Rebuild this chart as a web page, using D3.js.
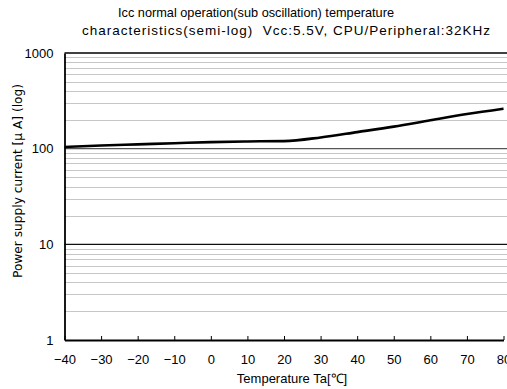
<!DOCTYPE html>
<html>
<head>
<meta charset="utf-8">
<script src="https://cdn.jsdelivr.net/npm/d3@7"></script>
<style>
  body { margin: 0; background: #fff; }
  svg { display: block; font-family: "Liberation Sans", Arial, sans-serif; }
</style>
</head>
<body>
<svg id="chart"></svg>
<script>
// data
var temps = [-40, -30, -20, -10, 0, 10, 20, 30, 40, 50, 60, 70, 80];
var icc = [104, 108, 111, 114, 117, 119, 120, 131, 149, 170, 198, 230, 262];
var xTicks = [-40, -30, -20, -10, 0, 10, 20, 30, 40, 50, 60, 70, 80];
var yTicks = [1, 10, 100, 1000];
var titleLines = [
    "Icc normal operation(sub oscillation) temperature",
    "characteristics(semi-log)  Vcc:5.5V, CPU/Peripheral:32KHz"
];

var width = 507, height = 389;
var margin = {top: 53, right: 3.5, bottom: 49, left: 64.5};

var svg = d3.select("#chart")
    .attr("width", width)
    .attr("height", height);

var x = d3.scaleLinear()
    .domain([-40, 80])
    .range([margin.left, width - margin.right]);

var y = d3.scaleLog()
    .domain([1, 1000])
    .range([height - margin.bottom, margin.top]);

// minor grid 2..9 per decade
var minor = [];
[1, 10, 100].forEach(function(d) {
    for (var k = 2; k <= 9; k++) minor.push(d * k);
});

svg.append("g")
    .selectAll("line")
    .data(minor)
    .enter().append("line")
    .attr("x1", margin.left)
    .attr("x2", width)
    .attr("y1", d => Math.round(y(d)) + 0.5)
    .attr("y2", d => Math.round(y(d)) + 0.5)
    .attr("stroke", "#8c8c8c")
    .attr("stroke-width", 1)
    .attr("stroke-dasharray", "1,1");

svg.append("g")
    .selectAll("line")
    .data([10, 100])
    .enter().append("line")
    .attr("x1", margin.left)
    .attr("x2", width)
    .attr("y1", d => y(d))
    .attr("y2", d => y(d))
    .attr("stroke", (d) => d == 10 ? "#111" : "#555")
    .attr("stroke-width", 1.4);

// top border
svg.append("line")
    .attr("x1", margin.left).attr("x2", width)
    .attr("y1", y(1000)).attr("y2", y(1000))
    .attr("stroke", "#000").attr("stroke-width", 1.5);

// x axis, ticks pointing inside
var xAxis = g => g
    .attr("transform", `translate(0,${y(1)})`)
    .call(d3.axisBottom(x).tickValues(xTicks).tickSizeInner(-4).tickSizeOuter(0).tickPadding(15)
        .tickFormat(d => d < 0 ? "\u2212" + Math.abs(d) : d))
    .call(g => g.select(".domain").attr("stroke", "#000").attr("stroke-width", 1.8))
    .call(g => g.selectAll(".tick line").attr("stroke", "#000"))
    .call(g => g.selectAll("text").style("font-size", "13px").style("font-family", "Liberation Sans").attr("fill", "#000"));

var yAxis = g => g
    .attr("transform", `translate(${margin.left},0)`)
    .call(d3.axisLeft(y).tickValues(yTicks).tickSize(0).tickPadding(11).tickFormat(d3.format("d")))
    .call(g => g.select(".domain").attr("stroke", "#000").attr("stroke-width", 1.8))
    .call(g => g.selectAll("text").style("font-size", "13px").style("font-family", "Liberation Sans").attr("fill", "#000"));

svg.append("g").call(xAxis);
svg.append("g").call(yAxis);

// curve
var line = d3.line()
    .x((d, i) => x(temps[i]))
    .y(d => y(d))
    .curve(d3.curveMonotoneX);

svg.append("path")
    .datum(icc)
    .attr("fill", "none")
    .attr("stroke", "#000")
    .attr("stroke-width", 2.6)
    .attr("d", line);

// titles
svg.append("g")
    .selectAll("text")
    .data(titleLines)
    .enter().append("text")
    .attr("x", (d, i) => i == 0 ? 256 : 286)
    .attr("y", (d, i) => 16.5 + i * 18.5)
    .attr("text-anchor", "middle")
    .style("font-size", "13.5px")
    .style("white-space", "pre")
    .attr("textLength", (d, i) => i == 0 ? 276 : 408)
    .attr("lengthAdjust", (d, i) => i == 0 ? "spacingAndGlyphs" : "spacing")
    .text(d => d);

svg.append("text")
    .attr("x", 292)
    .attr("y", 383)
    .attr("text-anchor", "middle")
    .style("font-size", "13px")
    .text("Temperature Ta[\u2103]");

svg.append("text")
    .attr("transform", "translate(22,181) rotate(-90)")
    .attr("text-anchor", "middle")
    .style("font-family", "DejaVu Sans")
    .style("font-size", "12.2px")
    .text("Power supply current [\u03bc A] (log)");
</script>
</body>
</html>
